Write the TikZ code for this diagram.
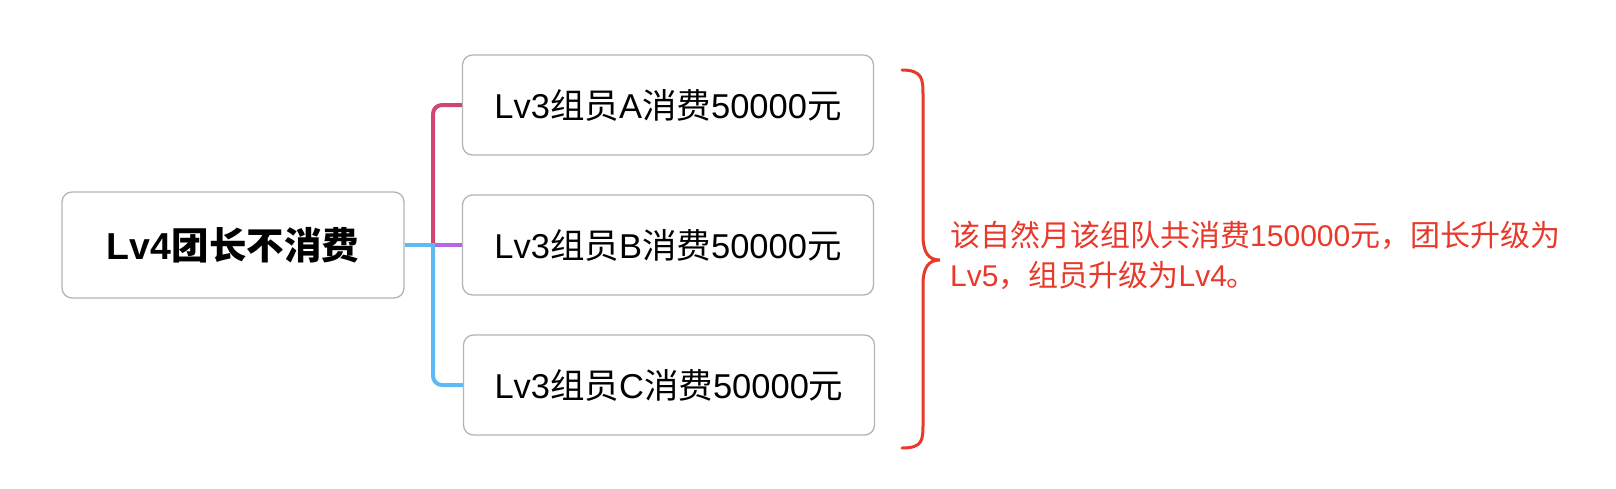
\documentclass[tikz,border=0pt]{standalone}
\usepackage{fontspec}
\setmainfont{Noto Sans CJK SC}
\newfontfamily\lat{Liberation Sans}
\definecolor{boxgray}{HTML}{B4B4B4}
\definecolor{cred}{HTML}{CF4770}
\definecolor{cpurple}{HTML}{B566E3}
\definecolor{cblue}{HTML}{5EB9F5}
\definecolor{noteRed}{HTML}{E8392A}
\tikzset{
  card/.style={draw=boxgray, line width=1.3pt, rounded corners=10pt, fill=white, inner sep=0pt},
  leaf/.style={card, minimum width=411pt, minimum height=100pt, font=\fontsize{34.5}{38}\selectfont},
  link/.style={line width=4pt, rounded corners=9pt},
}
\begin{document}
\begin{tikzpicture}[x=1pt,y=-1pt]
\useasboundingbox (0,0) rectangle (1616,488);
\node[card, minimum width=342pt, minimum height=106pt, font=\fontsize{37.5}{40}\selectfont] (root) at (233,245) {\textbf{{\lat\bfseries Lv4}团长不消费}};
\node[leaf] (a) at (668,105) {{\lat Lv3}组员{\lat A}消费{\lat 50000}元};
\node[leaf] (b) at (668,245) {{\lat Lv3}组员{\lat B}消费{\lat 50000}元};
\node[leaf] (c) at (669,385) {{\lat Lv3}组员{\lat C}消费{\lat 50000}元};
\coordinate (j) at (433,245);
\draw[link, cred] (j) |- (a.west);
\draw[link, cblue] (j) |- (c.west);
\draw[line width=4pt, cblue] (root.east) -- ([xshift=2pt]j);
\draw[line width=4pt, cpurple] ([xshift=2pt]j) -- (b.west);
\draw[line width=3pt, noteRed, line cap=round]
  (902,70) .. controls (923,70) and (923,80) .. (923,95) -- (923,235)
  .. controls (923,252) and (928,260) .. (940,260)
  .. controls (928,260) and (923,268) .. (923,285) -- (923,423)
  .. controls (923,440) and (923,448) .. (902,448);
\node[anchor=north west, inner sep=0pt, align=left, text=noteRed, font=\fontsize{30}{40}\selectfont] (note) at (950,221)
  {该自然月该组队共消费{\lat 150000}元，团长升级为\\{\lat Lv5}，组员升级为{\lat Lv4}。};
\end{tikzpicture}
\end{document}
